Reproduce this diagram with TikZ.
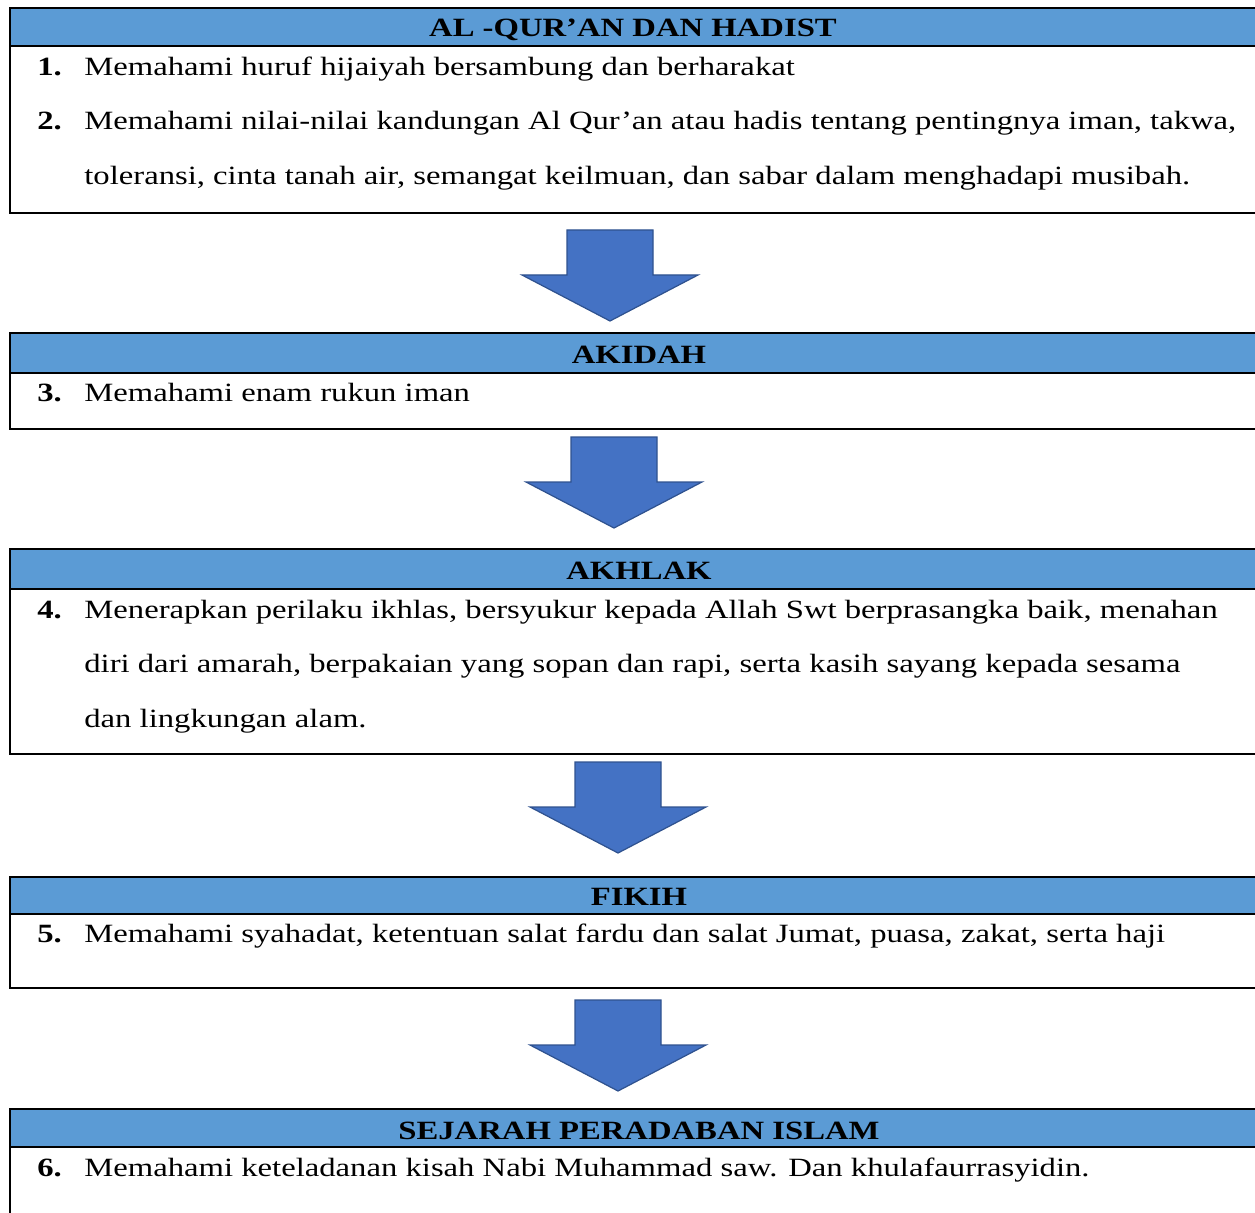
\documentclass[tikz,border=0pt]{standalone}
\usepackage{fontspec}
\setmainfont[FakeStretch=1.24]{Liberation Serif}
\definecolor{headblue}{HTML}{5B9BD5}
\definecolor{arrowblue}{HTML}{4472C4}
\definecolor{arrowedge}{HTML}{2F528F}
\tikzset{
  box/.style={draw=black,line width=1.1pt},
  band/.style={fill=headblue,draw=black,line width=1.1pt},
  head/.style={font=\fontsize{15}{17}\selectfont\bfseries,anchor=base,inner sep=0pt},
  num/.style={font=\fontsize{15}{17}\selectfont\bfseries,anchor=base west,inner sep=0pt},
  item/.style={font=\fontsize{15}{17}\selectfont,anchor=base west,inner sep=0pt},
  blockarrow/.style={fill=arrowblue,draw=arrowedge,line width=0.7pt,line join=miter}
}
\begin{document}
\begin{tikzpicture}[x=0.02cm,y=-0.02cm]

\useasboundingbox (0,0) rectangle (1255,1213);
\clip (0,0) rectangle (1255,1213);

% Al-Qur'an dan Hadist
\draw[box] (10,8) rectangle (1275,213);
\draw[band] (10,8) rectangle (1275,46);
\node[head] (h1) at (633,37) {AL -QUR’AN DAN HADIST};
\node[num] (n1) at (37,76) {1.};
\node[item] (t1) at (84,76) {Memahami huruf hijaiyah bersambung dan berharakat};
\node[num] (n2) at (37,130) {2.};
\node[item] (t2a) at (84,130) {Memahami nilai-nilai kandungan Al Qur’an atau hadis tentang pentingnya iman, takwa,};
\node[item] (t2b) at (84,185) {toleransi, cinta tanah air, semangat keilmuan, dan sabar dalam menghadapi musibah.};

% Akidah
\draw[box] (10,333) rectangle (1275,429);
\draw[band] (10,333) rectangle (1275,373);
\node[head] (h2) at (639,363) {AKIDAH};
\node[num] (n3) at (37,401) {3.};
\node[item] (t3) at (84,401) {Memahami enam rukun iman};

% Akhlak
\draw[box] (10,549) rectangle (1275,754);
\draw[band] (10,549) rectangle (1275,589);
\node[head] (h3) at (639,579) {AKHLAK};
\node[num] (n4) at (37,618) {4.};
\node[item] (t4a) at (84,618) {Menerapkan perilaku ikhlas, bersyukur kepada Allah Swt berprasangka baik, menahan};
\node[item] (t4b) at (84,672) {diri dari amarah, berpakaian yang sopan dan rapi, serta kasih sayang kepada sesama};
\node[item] (t4c) at (84,727) {dan lingkungan alam.};

% Fikih
\draw[box] (10,877) rectangle (1275,988);
\draw[band] (10,877) rectangle (1275,914);
\node[head] (h4) at (639,905) {FIKIH};
\node[num] (n5) at (37,942) {5.};
\node[item] (t5) at (84,942) {Memahami syahadat, ketentuan salat fardu dan salat Jumat, puasa, zakat, serta haji};

% Sejarah Peradaban Islam
\draw[box] (10,1109) rectangle (1275,1240);
\draw[band] (10,1109) rectangle (1275,1147);
\node[head] (h5) at (639,1139) {SEJARAH PERADABAN ISLAM};
\node[num] (n6) at (37,1176) {6.};
\node[item] (t6) at (84,1176) {Memahami keteladanan kisah Nabi Muhammad saw. Dan khulafaurrasyidin.};

% block arrows
\foreach \ax/\ay in {610/230,614/437,618/762,618/1000}
  \draw[blockarrow] (\ax-43,\ay) -- (\ax+43,\ay) -- (\ax+43,\ay+45) -- (\ax+88,\ay+45)
    -- (\ax,\ay+91) -- (\ax-88,\ay+45) -- (\ax-43,\ay+45) -- cycle;

\end{tikzpicture}
\end{document}
